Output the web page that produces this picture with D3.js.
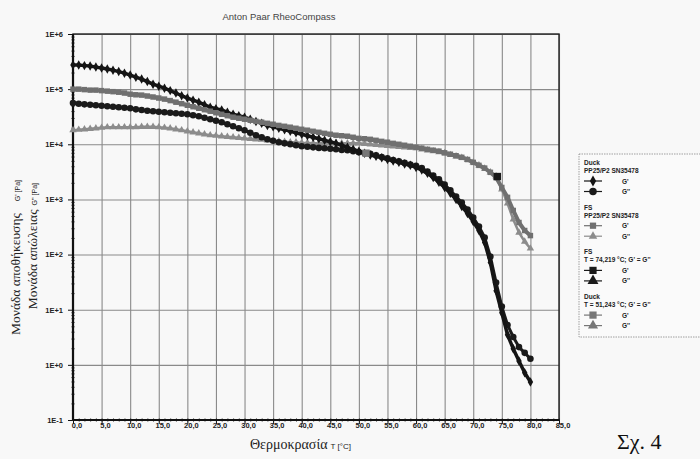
<!DOCTYPE html>
<html>
<head>
<meta charset="utf-8">
<script src="https://cdn.jsdelivr.net/npm/d3@7/dist/d3.min.js"></script>
<style>
  body { margin: 0; background: #f8f8f8; }
  svg text { font-family: "Liberation Sans", Arial, sans-serif; }
</style>
</head>
<body>
<div id="chart"></div>
<script>
// temperature [°C]
const temps = [0,1,2,3,4,5,6,7,8,9,10,11,12,13,14,15,16,17,18,19,20,21,22,23,24,25,26,27,28,29,
  30,31,32,33,34,35,36,37,38,39,40,41,42,43,44,45,46,47,48,49,50,51,52,53,54,55,56,57,58,59,
  60,61,62,63,64,65,66,67,68,69,70,71,72,73,74,75,76,77,78,79,80];

// Duck G' [Pa]
const duckGp = [2.73e5,2.73e5,2.67e5,2.62e5,2.51e5,2.41e5,2.31e5,2.21e5,2.08e5,1.95e5,
  1.80e5,1.65e5,1.52e5,1.37e5,1.23e5,1.13e5,1.04e5,9.4e4,8.5e4,7.6e4,
  6.9e4,6.3e4,5.8e4,5.2e4,4.7e4,4.4e4,4.2e4,3.8e4,3.5e4,3.3e4,
  3.1e4,2.85e4,2.6e4,2.4e4,2.2e4,2.08e4,1.95e4,1.84e4,1.72e4,1.62e4,
  1.52e4,1.43e4,1.34e4,1.26e4,1.18e4,1.11e4,1.04e4,9.6e3,8.8e3,8.1e3,
  7.5e3,6.9e3,6.4e3,6.05e3,5.7e3,5.3e3,5.0e3,4.7e3,4.4e3,4.15e3,
  3.8e3,3.4e3,2.97e3,2.5e3,2.04e3,1.65e3,1.29e3,1.0e3,746,556,
  398,273,165,71.6,22.1,8.8,3.5,1.95,1.18,0.72,
  0.49];

// Duck G'' [Pa]
const duckGpp = [5.6e4,5.45e4,5.3e4,5.2e4,5.1e4,5.0e4,4.9e4,4.8e4,4.7e4,4.6e4,
  4.5e4,4.3e4,4.2e4,4.06e4,3.98e4,3.9e4,3.8e4,3.74e4,3.66e4,3.59e4,
  3.5e4,3.37e4,3.23e4,3.03e4,2.85e4,2.67e4,2.51e4,2.31e4,2.12e4,1.95e4,
  1.8e4,1.62e4,1.46e4,1.34e4,1.23e4,1.16e4,1.09e4,1.04e4,1.0e4,9.6e3,
  9.2e3,9.0e3,8.8e3,8.6e3,8.5e3,8.3e3,8.1e3,7.9e3,7.8e3,7.5e3,
  7.2e3,6.9e3,6.7e3,6.3e3,5.9e3,5.6e3,5.2e3,4.9e3,4.6e3,4.3e3,
  4.06e3,3.7e3,3.2e3,2.7e3,2.31e3,1.87e3,1.46e3,1.13e3,881,658,
  471,323,204,92,31,11.4,5.3,3.2,2.1,1.65,
  1.29];

// FS G' [Pa]
const fsGp = [1.0e5,1.0e5,9.8e4,9.6e4,9.6e4,9.4e4,9.2e4,9.0e4,8.8e4,8.5e4,
  8.1e4,7.9e4,7.8e4,7.5e4,7.2e4,6.9e4,6.6e4,6.2e4,5.8e4,5.45e4,
  5.1e4,4.8e4,4.5e4,4.24e4,3.98e4,3.74e4,3.5e4,3.3e4,3.1e4,2.97e4,
  2.85e4,2.73e4,2.6e4,2.51e4,2.4e4,2.31e4,2.2e4,2.12e4,2.04e4,1.95e4,
  1.87e4,1.8e4,1.72e4,1.65e4,1.58e4,1.52e4,1.46e4,1.43e4,1.4e4,1.34e4,
  1.28e4,1.26e4,1.23e4,1.18e4,1.13e4,1.09e4,1.04e4,1.0e4,9.6e3,9.2e3,
  8.8e3,8.5e3,8.1e3,7.8e3,7.5e3,7.0e3,6.6e3,6.2e3,5.8e3,5.3e3,
  4.7e3,4.15e3,3.7e3,3.1e3,2.5e3,1.65e3,1.09e3,631,382,273,
  221];

// FS G'' [Pa]
const fsGpp = [1.8e4,1.84e4,1.87e4,1.91e4,1.95e4,2.0e4,2.04e4,2.04e4,2.04e4,2.04e4,
  2.04e4,2.04e4,2.08e4,2.08e4,2.08e4,2.04e4,2.0e4,1.95e4,1.87e4,1.8e4,
  1.72e4,1.65e4,1.58e4,1.52e4,1.46e4,1.43e4,1.4e4,1.37e4,1.34e4,1.31e4,
  1.28e4,1.26e4,1.23e4,1.21e4,1.18e4,1.16e4,1.13e4,1.11e4,1.09e4,1.09e4,
  1.06e4,1.06e4,1.04e4,1.04e4,1.04e4,1.04e4,1.04e4,1.04e4,1.04e4,1.04e4,
  1.04e4,1.02e4,1.0e4,9.8e3,9.6e3,9.4e3,9.2e3,9.0e3,8.8e3,8.6e3,
  8.5e3,8.1e3,7.8e3,7.5e3,7.2e3,6.9e3,6.4e3,6.05e3,5.7e3,5.2e3,
  4.7e3,4.15e3,3.63e3,3.1e3,2.62e3,1.52e3,845,433,251,172,
  129];

// crossover points G' = G''
const crossNames = ["FS", "Duck"];
const crossT = [74.219, 51.243];
const crossV = [2.6e3, 6.9e3];

const xTickValues = [0,5,10,15,20,25,30,35,40,45,50,55,60,65,70,75,80,85];
const xTickLabels = ["0,0","5,0","10,0","15,0","20,0","25,0","30,0","35,0","40,0","45,0",
  "50,0","55,0","60,0","65,0","70,0","75,0","80,0","85,0"];
const yTickValues = [1e-1,1e0,1e1,1e2,1e3,1e4,1e5,1e6];
const yTickLabels = ["1E-1","1E+0","1E+1","1E+2","1E+3","1E+4","1E+5","1E+6"];

const legendHeads = [["Duck","PP25/P2 SN35478"],["FS","PP25/P2 SN35478"],
  ["FS","T = 74,219 °C; G' = G''"],["Duck","T = 51,243 °C; G' = G''"]];
const legendLabels = ["G'", "G''"];

const width = 700, height = 459;
const x = d3.scaleLinear().domain([0, 85]).range([73, 559]);
const y = d3.scaleLog().domain([0.1, 1e6]).range([420, 34]);

const svg = d3.select("#chart").append("svg")
  .attr("width", width).attr("height", height)
  .attr("viewBox", [0, 0, width, height]);

svg.append("rect").attr("width", width).attr("height", height).attr("fill", "#f8f8f8");

// title
svg.append("text").attr("x", 279).attr("y", 20).attr("text-anchor", "middle")
  .attr("font-size", 9.5).attr("fill", "#444").text("Anton Paar RheoCompass");

// grid
svg.append("g").attr("transform", "translate(0,420)")
  .call(d3.axisBottom(x).tickValues(xTickValues).tickSize(-386).tickFormat(""))
  .call(g => g.select(".domain").remove())
  .call(g => g.selectAll("line").attr("stroke", "#8a8a8a").attr("stroke-width", 1.1));
svg.append("g").attr("transform", "translate(73,0)")
  .call(d3.axisLeft(y).tickValues(yTickValues).tickSize(-486).tickFormat(""))
  .call(g => g.select(".domain").remove())
  .call(g => g.selectAll("line").attr("stroke", "#8a8a8a").attr("stroke-width", 1.1));

// minor ticks
const xMinor = [];
for (let t = 0; t <= 85; t += 1) xMinor.push(t);
svg.append("g").attr("transform", "translate(0,420)")
  .call(d3.axisBottom(x).tickValues(xMinor).tickSize(3).tickFormat(""))
  .call(g => g.select(".domain").remove())
  .call(g => g.selectAll("line").attr("stroke", "#222").attr("transform", "translate(0,-1.5)"));
const yMinor = [];
yTickValues.slice(0, -1).forEach(d => { for (let k = 2; k <= 9; k++) yMinor.push(d * k); });
svg.append("g").attr("transform", "translate(73,0)")
  .call(d3.axisLeft(y).tickValues(yMinor).tickSize(3).tickFormat(""))
  .call(g => g.select(".domain").remove())
  .call(g => g.selectAll("line").attr("stroke", "#222").attr("transform", "translate(1.5,0)"));

// major axes with labels
svg.append("g").attr("transform", "translate(0,420)")
  .call(d3.axisBottom(x).tickValues(xTickValues).tickSize(4).tickFormat((d, i) => xTickLabels[i]))
  .call(g => g.select(".domain").remove())
  .call(g => g.selectAll("line").attr("stroke", "#111"))
  .call(g => g.selectAll("text").attr("font-size", 7.5).attr("font-weight", "bold")
    .attr("fill", "#222").attr("dx", 3.5).attr("dy", 0.5).style("font-family", "Liberation Sans"));
svg.append("g").attr("transform", "translate(73,0)")
  .call(d3.axisLeft(y).tickValues(yTickValues).tickSize(5).tickFormat((d, i) => yTickLabels[i]))
  .call(g => g.select(".domain").remove())
  .call(g => g.selectAll("line").attr("stroke", "#111"))
  .call(g => g.selectAll("text").attr("font-size", 7.5).attr("font-weight", "bold")
    .attr("fill", "#222").attr("dx", -2).style("font-family", "Liberation Sans"));

// frame
svg.append("rect").attr("x", 73).attr("y", 34).attr("width", 486).attr("height", 386)
  .attr("fill", "none").attr("stroke", "#222").attr("stroke-width", 1.4);
svg.append("line").attr("x1", 73).attr("x2", 73).attr("y1", 34).attr("y2", 420)
  .attr("stroke", "#111").attr("stroke-width", 2.2);
svg.append("line").attr("x1", 73).attr("x2", 559).attr("y1", 420).attr("y2", 420)
  .attr("stroke", "#111").attr("stroke-width", 2.2);

// series
const series = [
  { name: "FS G''", values: fsGpp, color: "#8c8c8c", symbol: d3.symbolTriangle, size: 24, lw: 2.5 },
  { name: "Duck G''", values: duckGpp, color: "#1a1a1a", symbol: d3.symbolCircle, size: 34, lw: 3 },
  { name: "Duck G'", values: duckGp, color: "#151515", symbol: d3.symbolDiamond, size: 26, lw: 3.5 },
  { name: "FS G'", values: fsGp, color: "#707070", symbol: d3.symbolSquare, size: 30, lw: 4 }
];

const line = d3.line().x(d => x(d[0])).y(d => y(d[1]));

series.forEach(s => {
  const pts = temps.map((t, i) => [t, s.values[i]]);
  const g = svg.append("g");
  g.append("path").datum(pts).attr("d", line)
    .attr("fill", "none").attr("stroke", s.color).attr("stroke-width", s.lw)
    .attr("stroke-linejoin", "round");
  g.selectAll("path.m").data(pts).join("path").attr("class", "m")
    .attr("transform", d => `translate(${x(d[0])},${y(d[1])})`)
    .attr("d", d3.symbol().type(s.symbol).size(s.size))
    .attr("fill", s.color);
});

// crossover markers
crossT.forEach((t, i) => {
  const c = i === 0 ? "#1a1a1a" : "#777";
  svg.append("path").attr("transform", `translate(${x(t)},${y(crossV[i])})`)
    .attr("d", d3.symbol().type(d3.symbolSquare).size(55)).attr("fill", c);
});

// axis titles
svg.append("text").attr("x", 250).attr("y", 449)
  .attr("font-size", 14).style("font-family", "Liberation Serif").attr("fill", "#222")
  .text("Θερμοκρασία")
  .append("tspan").attr("font-size", 8).style("font-family", "Liberation Sans").attr("dx", 3)
  .text("T [°C]");

svg.append("text").attr("transform", "translate(20,180) rotate(-90)")
  .attr("text-anchor", "end").attr("font-size", 13.5).style("font-family", "Liberation Serif")
  .attr("fill", "#222").text("Μονάδα αποθήκευσης")
  .append("tspan").attr("font-size", 7).style("font-family", "Liberation Sans").attr("dx", 12)
  .text("G' [Pa]");
svg.append("text").attr("transform", "translate(37,183) rotate(-90)")
  .attr("text-anchor", "end").attr("font-size", 13.5).style("font-family", "Liberation Serif")
  .attr("fill", "#222").text("Μονάδα απώλειας")
  .append("tspan").attr("font-size", 7).style("font-family", "Liberation Sans").attr("dx", 4)
  .text("G'' [Pa]");

// legend
const lg = svg.append("g").attr("transform", "translate(579,154)");
lg.append("rect").attr("x", 0).attr("y", 0).attr("width", 130).attr("height", 183)
  .attr("fill", "#fafafa").attr("stroke", "#888").attr("stroke-width", 0.8)
  .attr("stroke-dasharray", "1.5,1");
const legendStyles = [
  [series[2], series[1]],
  [series[3], series[0]],
  [{ color: "#1a1a1a", symbol: d3.symbolSquare, size: 40 }, { color: "#1a1a1a", symbol: d3.symbolTriangle, size: 40 }],
  [{ color: "#777", symbol: d3.symbolSquare, size: 40 }, { color: "#777", symbol: d3.symbolTriangle, size: 34 }]
];
legendHeads.forEach((h, i) => {
  const y0 = 9 + i * 44.7;
  lg.append("text").attr("x", 5).attr("y", y0 + 2).attr("font-size", 6.5).attr("font-weight", "bold")
    .attr("fill", "#222").text(h[0]);
  lg.append("text").attr("x", 5).attr("y", y0 + 10).attr("font-size", 6.5).attr("font-weight", "bold")
    .attr("fill", "#222").text(h[1]);
  legendStyles[i].forEach((st, j) => {
    const yy = y0 + 18 + j * 10.5;
    lg.append("line").attr("x1", 5).attr("x2", 23).attr("y1", yy).attr("y2", yy)
      .attr("stroke", st.color).attr("stroke-width", 1.2);
    lg.append("path").attr("transform", `translate(14,${yy})`)
      .attr("d", d3.symbol().type(st.symbol).size(st.size * 1.3)).attr("fill", st.color);
    lg.append("text").attr("x", 43).attr("y", yy + 2.5).attr("font-size", 6.5).attr("font-weight", "bold")
      .attr("fill", "#222").text(legendLabels[j]);
  });
});

// figure label
svg.append("text").attr("x", 617).attr("y", 449).attr("font-size", 22)
  .style("font-family", "Liberation Serif").attr("fill", "#111").text("Σχ. 4");
</script>
</body>
</html>
